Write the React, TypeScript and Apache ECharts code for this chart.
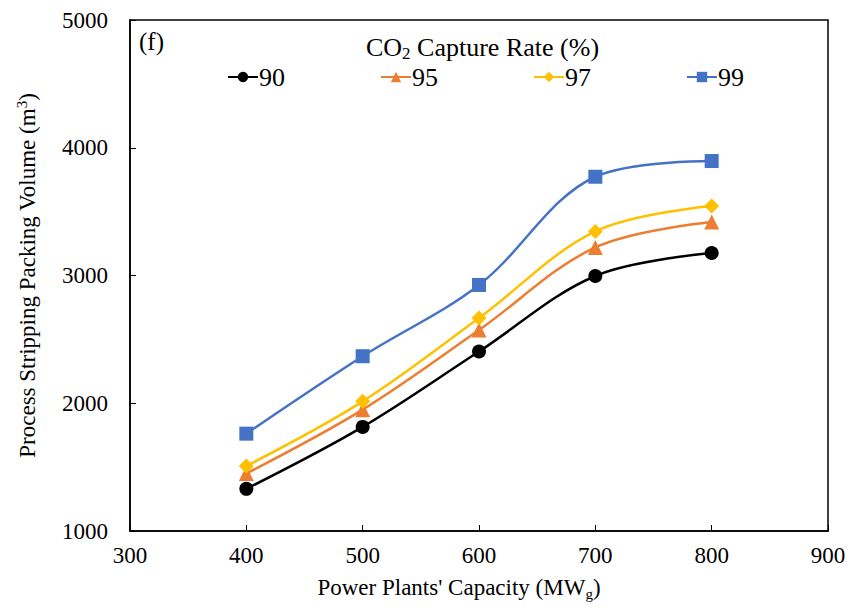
import React, { useEffect, useRef } from "react";
import * as echarts from "echarts";

const capacities = [400, 500, 600, 700, 800];
const seriesNames = ["90", "95", "97", "99"];
const vol90 = [1330, 1815, 2405, 2996, 3176];
const vol95 = [1450, 1950, 2573, 3220, 3419];
const vol97 = [1509, 2015, 2667, 3345, 3544];
const vol99 = [1762, 2368, 2926, 3773, 3896];
const colors = ["#000000", "#ED7D31", "#FFC000", "#4472C4"];
const symbols = ["circle", "triangle", "diamond", "rect"];
const symbolSizes = [14, 15, 15, 14];

const FONT = "'Liberation Serif', 'Times New Roman', serif";
const FS = 23;
const FL = 26;

export default function App() {
  const ref = useRef<HTMLDivElement>(null);
  useEffect(() => {
    const chart = echarts.init(ref.current!, null, { renderer: "svg" });
    const all = [vol90, vol95, vol97, vol99];
    chart.setOption({
      animation: false,
      textStyle: { fontFamily: FONT, color: "#000" },
      grid: { left: 130, right: 36, top: 20, bottom: 79, containLabel: false },
      title: {
        text: "{a|CO}{s|2}{a| Capture Rate (%)}",
        left: 361,
        top: 28,
        textStyle: {
          fontFamily: FONT,
          fontWeight: "normal",
          rich: {
            a: { fontFamily: FONT, fontSize: FL, fontWeight: "normal", color: "#000" },
            s: { fontFamily: FONT, fontSize: 17, fontWeight: "normal", color: "#000", padding: [12, 0, 0, 0] },
          },
        },
      },
      legend: {
        data: seriesNames,
        left: 227,
        top: 64,
        padding: 0,
        itemWidth: 30,
        itemHeight: 13,
        itemGap: 95,
        textStyle: { fontFamily: FONT, fontSize: FL, color: "#000", padding: [0, 0, 0, -4] },
      },
      graphic: [
        {
          type: "text",
          left: 139,
          top: 29,
          style: { text: "(f)", font: `25px ${FONT}`, fill: "#000" },
        },
        {
          type: "rect",
          shape: { x: 130, y: 20, width: 698, height: 511 },
          style: { fill: "none", stroke: "#000", lineWidth: 1.5 },
          silent: true,
        },
      ],
      xAxis: {
        type: "value",
        min: 300,
        max: 900,
        interval: 100,
        name: "Power Plants' Capacity (MW{sub|g})",
        nameLocation: "middle",
        nameGap: 42,
        nameTextStyle: {
          fontFamily: FONT,
          fontSize: FS,
          color: "#000",
          padding: [0, 40, 0, 0],
          rich: { sub: { fontFamily: FONT, fontSize: 15, color: "#000", padding: [13, 0, 0, 0] } },
        },
        axisLine: { show: true, onZero: false, lineStyle: { color: "#000", width: 1.5 } },
        axisTick: { show: true, inside: true, length: 6, lineStyle: { color: "#000" } },
        axisLabel: {
          fontFamily: FONT,
          fontSize: FS,
          color: "#000",
          margin: 13,
          formatter: (v: number) => String(v),
        },
        splitLine: { show: false },
      },
      yAxis: {
        type: "value",
        min: 1000,
        max: 5000,
        interval: 1000,
        name: "Process Stripping Packing Volume (m{sup|3})",
        nameLocation: "middle",
        nameGap: 90,
        nameTextStyle: {
          fontFamily: FONT,
          fontSize: FS,
          color: "#000",
          rich: { sup: { fontFamily: FONT, fontSize: 15, color: "#000", padding: [0, 0, 11, 0] } },
        },
        axisLine: { show: true, lineStyle: { color: "#000", width: 1.5 } },
        axisTick: { show: true, inside: true, length: 6, lineStyle: { color: "#000" } },
        axisLabel: {
          fontFamily: FONT,
          fontSize: FS,
          color: "#000",
          margin: 22,
          formatter: (v: number) => String(v),
        },
        splitLine: { show: false },
      },
      series: seriesNames.map((name, i) => ({
        name,
        type: "line",
        smooth: 0.35,
        data: capacities.map((c, j) => [c, all[i][j]]),
        symbol: symbols[i],
        symbolSize: symbolSizes[i],
        showSymbol: true,
        lineStyle: { color: colors[i], width: 2.5 },
        itemStyle: { color: colors[i] },
      })),
    });
    return () => chart.dispose();
  }, []);
  return <div ref={ref} style={{ width: 864, height: 610, margin: -8 }} />;
}
